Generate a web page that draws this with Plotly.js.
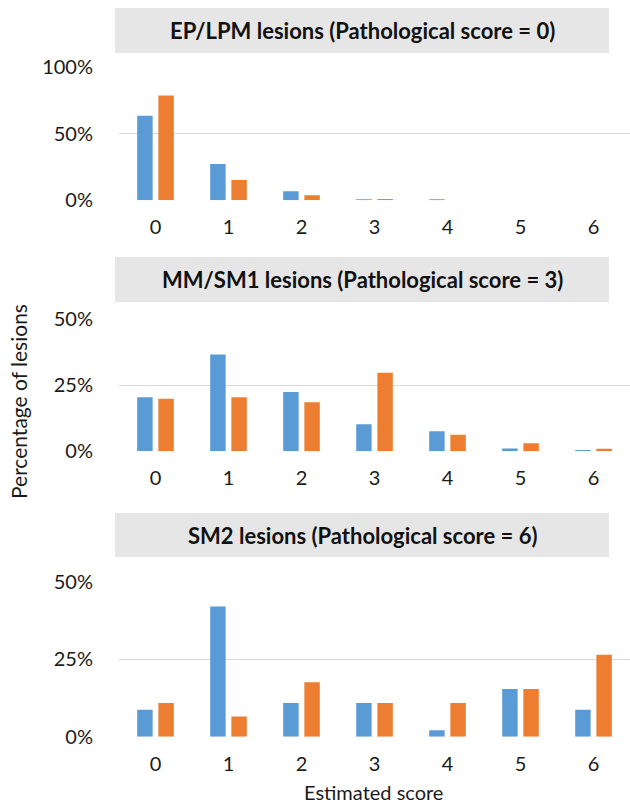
<!DOCTYPE html>
<html>
<head>
<meta charset="utf-8">
<script src="https://cdn.plot.ly/plotly-3.0.1.min.js"></script>
<style>
  html, body { margin: 0; padding: 0; background: #ffffff; }
  #chart { width: 630px; height: 806px; }
</style>
</head>
<body>
<div id="chart"></div>
<script>
// Estimated score categories
const scores = ['0', '1', '2', '3', '4', '5', '6'];

// Share of lesions per estimated score (fractions)
const epBlue    = [0.635, 0.2725, 0.0675, 0.0075, 0.0075, 0, 0];
const epOrange  = [0.7875, 0.1525, 0.0375, 0.010, 0, 0, 0];
const mmBlue    = [0.204, 0.366, 0.224, 0.102, 0.076, 0.011, 0.005];
const mmOrange  = [0.199, 0.204, 0.185, 0.297, 0.063, 0.030, 0.010];
const sm2Blue   = [0.087, 0.421, 0.109, 0.109, 0.021, 0.154, 0.087];
const sm2Orange = [0.109, 0.065, 0.176, 0.109, 0.109, 0.154, 0.265];

const panelTitles = [
  'EP/LPM lesions (Pathological score = 0)',
  'MM/SM1 lesions (Pathological score = 3)',
  'SM2 lesions (Pathological score = 6)'
];

const BLUE = '#5b9bd5';
const ORANGE = '#ed7d31';
const W = 630, H = 806;
const px = v => v / W;          // horizontal pixel -> paper
const py = v => 1 - v / H;      // vertical pixel -> paper

const FONT = 'Lato, "Open Sans", sans-serif';
const TEXT = '#1a1a1a';

function bar(y, color, xa, ya, name) {
  return {
    type: 'bar', x: scores, y: y, name: name,
    xaxis: xa, yaxis: ya,
    marker: { color: color, line: { width: 0 } },
    showlegend: false, hoverinfo: 'skip'
  };
}

const data = [
  bar(epBlue, BLUE, 'x', 'y', 'Series 1'),
  bar(epOrange, ORANGE, 'x', 'y', 'Series 2'),
  bar(mmBlue, BLUE, 'x2', 'y2', 'Series 1'),
  bar(mmOrange, ORANGE, 'x2', 'y2', 'Series 2'),
  bar(sm2Blue, BLUE, 'x3', 'y3', 'Series 1'),
  bar(sm2Orange, ORANGE, 'x3', 'y3', 'Series 2')
];

const xDomain = [px(119), 1];

function xAxis(anchor) {
  return {
    domain: xDomain, anchor: anchor, type: 'category',
    showgrid: false, zeroline: false, showline: false,
    ticks: 'outside', ticklen: 9, tickcolor: 'rgba(0,0,0,0)',
    tickfont: { family: FONT, size: 20, color: TEXT },
    fixedrange: true
  };
}

function yAxis(anchor, top, zeroPx, topPx, step) {
  return {
    domain: [py(zeroPx), py(topPx)], anchor: anchor,
    range: [0, top], tickvals: [0, step, 2 * step].filter(v => v <= top + 1e-9),
    tickformat: '.0%',
    showgrid: true, gridcolor: '#d9d9d9', gridwidth: 1,
    zeroline: false, showline: false,
    ticks: 'outside', ticklen: 21, tickcolor: 'rgba(0,0,0,0)',
    tickfont: { family: FONT, size: 20, color: TEXT },
    fixedrange: true
  };
}

// Title banners (grey boxes) in pixel rows
const banners = [[8, 53], [257, 302], [513, 557]];

const shapes = banners.map(b => ({
  type: 'rect', xref: 'paper', yref: 'paper',
  x0: px(115), x1: px(609), y0: py(b[1]), y1: py(b[0]),
  fillcolor: '#e7e6e6', line: { width: 0 }, layer: 'below'
}));

const annotations = banners.map((b, i) => ({
  xref: 'paper', yref: 'paper',
  x: px(362), y: py((b[0] + b[1]) / 2),
  xanchor: 'center', yanchor: 'middle',
  text: '<b>' + panelTitles[i] + '</b>', showarrow: false,
  font: { family: FONT, size: 22, color: '#111111' }
}));

annotations.push({
  xref: 'paper', yref: 'paper', x: px(19), y: py(402),
  xanchor: 'center', yanchor: 'middle', textangle: -90,
  text: 'Percentage of lesions', showarrow: false,
  font: { family: FONT, size: 21, color: TEXT }
});
annotations.push({
  xref: 'paper', yref: 'paper', x: px(373), y: py(792),
  xanchor: 'center', yanchor: 'middle',
  text: 'Estimated score', showarrow: false,
  font: { family: FONT, size: 20, color: TEXT }
});

const layout = {
  width: W, height: H,
  margin: { l: 0, r: 0, t: 0, b: 0, pad: 0 },
  paper_bgcolor: '#ffffff', plot_bgcolor: 'rgba(0,0,0,0)',
  barmode: 'group', bargap: 0.42, bargroupgap: 0.27,
  font: { family: FONT, color: TEXT },
  xaxis: xAxis('y'),
  xaxis2: xAxis('y2'),
  xaxis3: xAxis('y3'),
  yaxis: yAxis('x', 1, 200.3, 67.3, 0.5),
  yaxis2: yAxis('x2', 0.5, 451.3, 319, 0.25),
  yaxis3: yAxis('x3', 0.5, 736.7, 582, 0.25),
  shapes: shapes,
  annotations: annotations,
  hovermode: false
};

Plotly.newPlot('chart', data, layout, { displayModeBar: false, staticPlot: true });
</script>
</body>
</html>
